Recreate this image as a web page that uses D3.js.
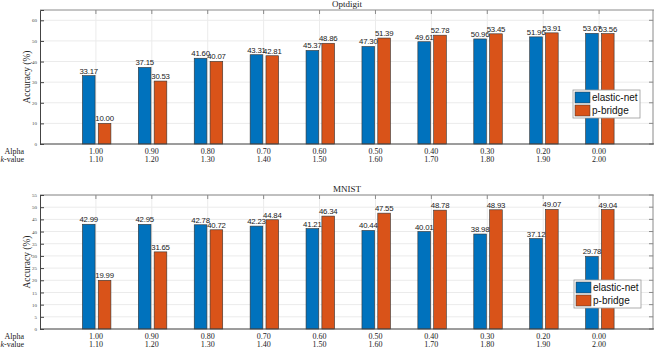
<!DOCTYPE html>
<html>
<head>
<meta charset="utf-8">
<script src="https://cdn.jsdelivr.net/npm/d3@7/dist/d3.min.js"></script>
<style>
  body { margin: 0; background: #fff; }
  svg { display: block; }
  .tick text { font-family: "Liberation Serif", serif; }
</style>
</head>
<body>
<svg></svg>
<script>

var alphaLabels = ["1.00", "0.90", "0.80", "0.70", "0.60", "0.50", "0.40", "0.30", "0.20", "0.00"],
    kLabels = ["1.10", "1.20", "1.30", "1.40", "1.50", "1.60", "1.70", "1.80", "1.90", "2.00"],
    seriesNames = ["elastic-net", "p-bridge"],
    colours = ["#0072BD", "#D95319"];

var optElastic = [33.17, 37.15, 41.60, 43.31, 45.37, 47.30, 49.61, 50.96, 51.96, 53.67],
    optBridge = [10.00, 30.53, 40.07, 42.81, 48.86, 51.39, 52.78, 53.45, 53.91, 53.56],
    mnistElastic = [42.99, 42.95, 42.78, 42.23, 41.21, 40.44, 40.01, 38.98, 37.12, 29.78],
    mnistBridge = [19.99, 31.65, 40.72, 44.84, 46.34, 47.55, 48.78, 48.93, 49.07, 49.04];

var width = 654, height = 350,
    svg = d3.select("svg").attr("width", width).attr("height", height);

// slots 0 and 11 are empty, categories sit at 1..10
var x = d3.scalePoint().domain(d3.range(12)).range([40, 655]);
var sub = d3.scaleBand().domain(seriesNames).range([-13.5, 15]).paddingInner(0.2);

function panel(opts) {
  var y = d3.scaleLinear().domain([0, opts.ymax]).range([opts.bottom, opts.top]);
  var g = svg.append("g");
  var x0 = x.range()[0], x1 = x.range()[1];

  // grid
  g.append("g").selectAll("line.h").data(opts.yticks).enter().append("line")
      .attr("x1", x0).attr("x2", x1)
      .attr("y1", d => y(d)).attr("y2", d => y(d))
      .attr("stroke", "#ebebeb");
  g.append("g").selectAll("line.v").data(d3.range(1, 11)).enter().append("line")
      .attr("x1", d => x(d)).attr("x2", d => x(d))
      .attr("y1", opts.top).attr("y2", opts.bottom)
      .attr("stroke", "#ebebeb");

  // box top / right
  g.append("line").attr("x1", x0).attr("x2", x1).attr("y1", opts.top).attr("y2", opts.top)
      .attr("stroke", "#8a8a8a");
  g.append("line").attr("x1", x1 - 2).attr("x2", x1 - 2).attr("y1", opts.top).attr("y2", opts.bottom)
      .attr("stroke", "#8a8a8a");
  g.append("g").selectAll("line").data(d3.range(1, 11)).enter().append("line")
      .attr("x1", d => x(d)).attr("x2", d => x(d))
      .attr("y1", opts.top).attr("y2", opts.top + 4)
      .attr("stroke", "#8a8a8a");
  g.append("g").selectAll("line").data(opts.yticks).enter().append("line")
      .attr("x1", x1 - 2).attr("x2", x1 - 6)
      .attr("y1", d => y(d)).attr("y2", d => y(d))
      .attr("stroke", "#8a8a8a");

  // bars
  var rows = d3.range(10).map(i => ({i: i, vals: [opts.a[i], opts.b[i]]}));
  var grp = g.append("g").selectAll("g").data(rows).enter().append("g")
      .attr("transform", d => "translate(" + x(d.i + 1) + ",0)");
  grp.selectAll("rect").data(d => d.vals.map((v, j) => ({v: v, s: seriesNames[j], c: colours[j]})))
    .enter().append("rect")
      .attr("x", d => sub(d.s))
      .attr("width", sub.bandwidth())
      .attr("y", d => y(d.v))
      .attr("height", d => y(0) - y(d.v))
      .attr("fill", d => d.c)
      .attr("stroke", "#333")
      .attr("stroke-width", 0.6);
  grp.selectAll("text").data(d => d.vals.map((v, j) => ({v: v, s: seriesNames[j]})))
    .enter().append("text")
      .attr("x", d => sub(d.s) + sub.bandwidth() / 2)
      .attr("y", d => y(d.v) - 2)
      .attr("text-anchor", "middle")
      .attr("font-family", "Liberation Sans, Arial, sans-serif")
      .attr("font-size", 7.8)
      .attr("letter-spacing", -0.2)
      .attr("fill", "#222")
      .text(d => d.v.toFixed(2));

  // y axis
  var ya = g.append("g").attr("transform", "translate(" + x0 + ",0)")
      .call(d3.axisLeft(y).tickValues(opts.yticks).tickSize(-4).tickPadding(3));
  ya.select(".domain").attr("stroke", "#444");
  ya.selectAll(".tick line").attr("stroke", "#444");
  ya.selectAll(".tick text").attr("font-size", 5).attr("fill", "#444");

  // x axis baseline
  g.append("line").attr("x1", x0).attr("x2", x1).attr("y1", y(0)).attr("y2", y(0))
      .attr("stroke", "#444");

  // category labels
  var lab = g.append("g").attr("font-family", "Liberation Serif, serif").attr("font-size", 8)
      .attr("fill", "#222").attr("text-anchor", "middle");
  lab.selectAll("text.a").data(alphaLabels).enter().append("text")
      .attr("x", (d, i) => x(i + 1)).attr("y", opts.bottom + 10).text(d => d);
  lab.selectAll("text.k").data(kLabels).enter().append("text")
      .attr("x", (d, i) => x(i + 1)).attr("y", opts.bottom + 18).text(d => d);
  lab.append("text").attr("x", 24).attr("y", opts.bottom + 10).attr("text-anchor", "end").text("Alpha");
  var kt = lab.append("text").attr("x", 24).attr("y", opts.bottom + 18).attr("text-anchor", "end");
  kt.append("tspan").attr("font-style", "italic").text("k");
  kt.append("tspan").text("-value");

  // title and y label
  g.append("text").attr("x", 347).attr("y", opts.top - 3)
      .attr("text-anchor", "middle").attr("font-family", "Liberation Serif, serif")
      .attr("font-size", 9).attr("fill", "#222").text(opts.title);
  g.append("text")
      .attr("transform", "translate(30," + ((opts.top + opts.bottom) / 2) + ") rotate(-90)")
      .attr("text-anchor", "middle").attr("font-family", "Liberation Serif, serif")
      .attr("font-size", 9.5).attr("fill", "#222").text("Accuracy (%)");

  // legend
  var lg = g.append("g").attr("transform", "translate(" + opts.legend[0] + "," + opts.legend[1] + ")");
  lg.append("rect").attr("width", 67).attr("height", 28)
      .attr("fill", "#fff").attr("stroke", "#9a9a9a").attr("stroke-width", 0.8);
  var li = lg.selectAll("g").data(seriesNames).enter().append("g")
      .attr("transform", (d, i) => "translate(2," + (2 + i * 13) + ")");
  li.append("rect").attr("width", 15).attr("height", 11)
      .attr("fill", (d, i) => colours[i]).attr("stroke", "#333").attr("stroke-width", 0.5);
  li.append("text").attr("x", 17).attr("y", 9)
      .attr("font-family", "Liberation Sans, Arial, sans-serif").attr("font-size", 10)
      .attr("fill", "#111").text(d => d);
}

panel({title: "Optdigit", a: optElastic, b: optBridge, ymax: 65,
       yticks: d3.range(0, 61, 10), top: 10, bottom: 144, legend: [573, 90]});
panel({title: "MNIST", a: mnistElastic, b: mnistBridge, ymax: 55,
       yticks: d3.range(0, 56, 5), top: 195, bottom: 329, legend: [574, 280]});

</script>
</body>
</html>
